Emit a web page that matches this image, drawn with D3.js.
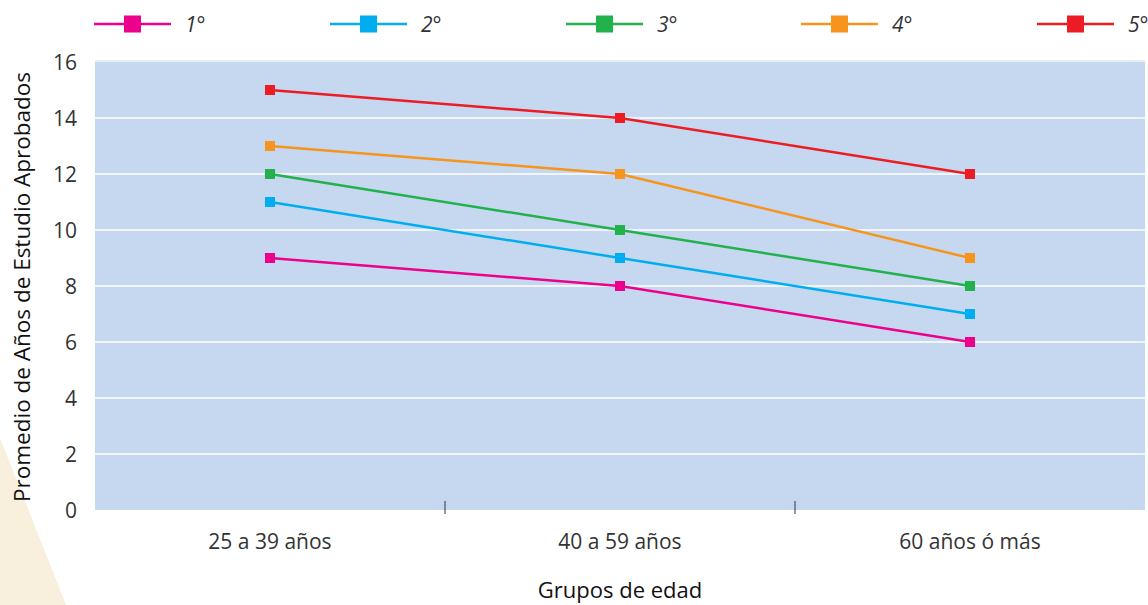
<!DOCTYPE html>
<html><head><meta charset="utf-8">
<script src="https://cdn.jsdelivr.net/npm/d3@7"></script>
<style>body{margin:0;background:#fff}svg{display:block;font-family:"Open Sans",sans-serif}</style>
</head><body><svg id="c" width="1148" height="605"></svg>
<script>
const categories = ["25 a 39 años", "40 a 59 años", "60 años ó más"];
const seriesNames = ["1°", "2°", "3°", "4°", "5°"];
const s1 = [9, 8, 6];
const s2 = [11, 9, 7];
const s3 = [12, 10, 8];
const s4 = [13, 12, 9];
const s5 = [15, 14, 12];
const yTicks = [0, 2, 4, 6, 8, 10, 12, 14, 16];
const colors = ["#ec008c", "#00aeef", "#22b14c", "#f7941d", "#ed1c24"];
const series = [s1, s2, s3, s4, s5];

const svg = d3.select("#c");
const L = 95, R = 1145, T = 62, B = 510;
// decorative background shape
svg.append("path").attr("d", "M0,438 L66,605 L0,605 Z").attr("fill", "#f8efdc");

const x = d3.scaleBand().domain(categories).range([L, R]);
const y = d3.scaleLinear().domain([0, 16]).range([B, T]);

svg.append("rect").attr("x", L).attr("y", T - 1).attr("width", R - L).attr("height", B - T + 1).attr("fill", "#c5d8ef");
svg.append("line").attr("x1", L).attr("x2", R).attr("y1", T - 1).attr("y2", T - 1).attr("stroke", "#e6edf7").attr("stroke-width", 2);
svg.selectAll(".grid").data(yTicks.filter(d => d > 0 && d < 16)).enter().append("line")
  .attr("x1", L).attr("x2", R).attr("y1", d => y(d)).attr("y2", d => y(d))
  .attr("stroke", "#fff").attr("stroke-width", 1.6);

// y axis labels
svg.append("g").selectAll("text").data(yTicks).enter().append("text")
  .attr("x", 77).attr("y", d => y(d) + 7.5).attr("text-anchor", "end")
  .attr("font-size", 21).attr("fill", "#333").text(d => d);

// x separator ticks
const seps = categories.slice(1).map(c => x(c));
svg.selectAll(".sep").data(seps).enter().append("line")
  .attr("x1", d => d).attr("x2", d => d).attr("y1", B - 9).attr("y2", B + 4)
  .attr("stroke", "#333").attr("stroke-width", 1);

svg.append("g").selectAll("text").data(categories).enter().append("text")
  .attr("x", d => x(d) + x.bandwidth() / 2).attr("y", 549).attr("text-anchor", "middle")
  .attr("font-size", 21).attr("fill", "#333").text(d => d);

svg.append("text").attr("x", 620).attr("y", 598).attr("text-anchor", "middle")
  .attr("font-size", 22).attr("fill", "#111").text("Grupos de edad");
svg.append("text").attr("transform", "translate(30,287) rotate(-90)").attr("text-anchor", "middle")
  .attr("font-size", 22.5).attr("fill", "#111").text("Promedio de Años de Estudio Aprobados");

const line = d3.line().x((d, i) => x(categories[i]) + x.bandwidth() / 2).y(d => y(d));
series.forEach((s, k) => {
  svg.append("path").datum(s).attr("d", line).attr("fill", "none")
    .attr("stroke", colors[k]).attr("stroke-width", 2.5);
  svg.selectAll(null).data(s).enter().append("rect")
    .attr("x", (d, i) => x(categories[i]) + x.bandwidth() / 2 - 5)
    .attr("y", d => y(d) - 5).attr("width", 10).attr("height", 10).attr("fill", colors[k]);
});

// legend
const legX = [94, 330, 566, 801, 1037];
seriesNames.forEach((n, k) => {
  const g = svg.append("g").attr("transform", `translate(${legX[k]},24)`);
  g.append("line").attr("x1", 0).attr("x2", 77).attr("stroke", colors[k]).attr("stroke-width", 2.5);
  g.append("rect").attr("x", 30).attr("y", -8.5).attr("width", 17).attr("height", 17).attr("fill", colors[k]);
  g.append("text").attr("x", 91).attr("y", 8).attr("font-size", 21).attr("font-style", "italic")
    .attr("fill", "#333").text(n);
});
</script></body></html>
